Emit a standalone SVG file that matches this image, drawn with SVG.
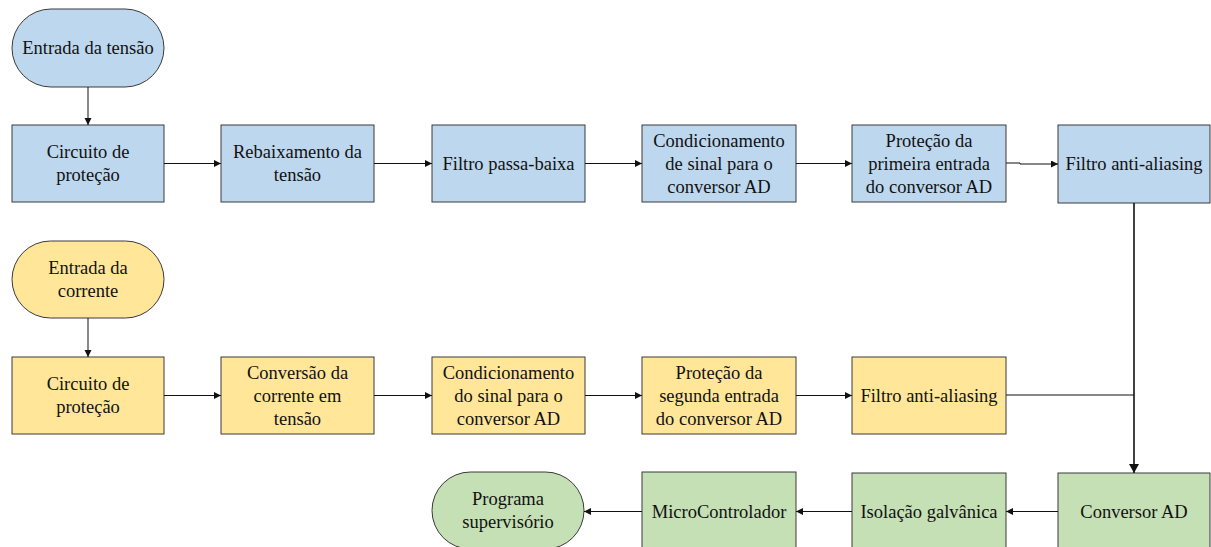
<svg xmlns="http://www.w3.org/2000/svg" width="1211" height="547" viewBox="0 0 1211 547" font-family="Liberation Serif, Tinos, Times New Roman, DejaVu Serif, serif">
  <style>
    .box { stroke: #3a3a3a; stroke-width: 1; }
    .blue { fill: #bdd7ee; }
    .orange { fill: #ffe699; }
    .green { fill: #c5e0b4; }
    .lbl { font-family: "Liberation Serif", Tinos, "Times New Roman", "DejaVu Serif", serif; font-size: 18.5px; fill: #111; text-anchor: middle; }
    .wire { fill: none; stroke: #111; stroke-width: 1; }
    .wire-main { fill: none; stroke: #111; stroke-width: 1.6; }
  </style>
  <defs>
    <marker id="arr" markerUnits="userSpaceOnUse" markerWidth="8" markerHeight="8" refX="7" refY="3.5" orient="auto">
      <path d="M0,0 L7,3.5 L0,7 z" fill="#111"/>
    </marker>
    <marker id="arrBig" markerUnits="userSpaceOnUse" markerWidth="12" markerHeight="12" refX="9" refY="5" orient="auto">
      <path d="M0,0 L9,5 L0,10 z" fill="#111"/>
    </marker>
  </defs>

  <!-- voltage path -->
  <g id="entrada-tensao">
    <rect class="box blue" x="12" y="9" width="152" height="78" rx="39" ry="39"/>
    <text class="lbl" x="88" y="54">Entrada da tensão</text>
  </g>
  <g id="v-protecao">
    <rect class="box blue" x="12" y="125" width="152" height="77"/>
    <text class="lbl" x="88" y="158">Circuito de</text>
    <text class="lbl" x="88" y="181">proteção</text>
  </g>
  <g id="v-rebaixamento">
    <rect class="box blue" x="221" y="125" width="153" height="77"/>
    <text class="lbl" x="297.5" y="158">Rebaixamento da</text>
    <text class="lbl" x="297.5" y="181">tensão</text>
  </g>
  <g id="v-passa-baixa">
    <rect class="box blue" x="432" y="125" width="153" height="77"/>
    <text class="lbl" x="508.5" y="169.5">Filtro passa-baixa</text>
  </g>
  <g id="v-condicionamento">
    <rect class="box blue" x="642" y="125" width="154" height="77"/>
    <text class="lbl" x="719" y="146.5">Condicionamento</text>
    <text class="lbl" x="719" y="169.5">de sinal para o</text>
    <text class="lbl" x="719" y="192.5">conversor AD</text>
  </g>
  <g id="v-protecao-ad">
    <rect class="box blue" x="852" y="125" width="154" height="77"/>
    <text class="lbl" x="929" y="146.5">Proteção da</text>
    <text class="lbl" x="929" y="169.5">primeira entrada</text>
    <text class="lbl" x="929" y="192.5">do conversor AD</text>
  </g>
  <g id="v-anti-aliasing">
    <rect class="box blue" x="1058" y="125" width="152" height="78"/>
    <text class="lbl" x="1134" y="170">Filtro anti-aliasing</text>
  </g>

  <!-- current path -->
  <g id="entrada-corrente">
    <rect class="box orange" x="12" y="241" width="152" height="77" rx="38.5" ry="38.5"/>
    <text class="lbl" x="88" y="274">Entrada da</text>
    <text class="lbl" x="88" y="297">corrente</text>
  </g>
  <g id="i-protecao">
    <rect class="box orange" x="12" y="357" width="152" height="77"/>
    <text class="lbl" x="88" y="390">Circuito de</text>
    <text class="lbl" x="88" y="413">proteção</text>
  </g>
  <g id="i-conversao">
    <rect class="box orange" x="221" y="357" width="153" height="77"/>
    <text class="lbl" x="297.5" y="378.5">Conversão da</text>
    <text class="lbl" x="297.5" y="401.5">corrente em</text>
    <text class="lbl" x="297.5" y="424.5">tensão</text>
  </g>
  <g id="i-condicionamento">
    <rect class="box orange" x="432" y="357" width="153" height="77"/>
    <text class="lbl" x="508.5" y="378.5">Condicionamento</text>
    <text class="lbl" x="508.5" y="401.5">do sinal para o</text>
    <text class="lbl" x="508.5" y="424.5">conversor AD</text>
  </g>
  <g id="i-protecao-ad">
    <rect class="box orange" x="642" y="357" width="154" height="77"/>
    <text class="lbl" x="719" y="378.5">Proteção da</text>
    <text class="lbl" x="719" y="401.5">segunda entrada</text>
    <text class="lbl" x="719" y="424.5">do conversor AD</text>
  </g>
  <g id="i-anti-aliasing">
    <rect class="box orange" x="852" y="357" width="154" height="77"/>
    <text class="lbl" x="929" y="401.5">Filtro anti-aliasing</text>
  </g>

  <!-- digital side -->
  <g id="conversor-ad">
    <rect class="box green" x="1058" y="473" width="152" height="77"/>
    <text class="lbl" x="1134" y="517.5">Conversor AD</text>
  </g>
  <g id="isolacao">
    <rect class="box green" x="852" y="473" width="154" height="77"/>
    <text class="lbl" x="929" y="517.5">Isolação galvânica</text>
  </g>
  <g id="microcontrolador">
    <rect class="box green" x="642" y="472" width="154" height="78"/>
    <text class="lbl" x="719" y="517.5">MicroControlador</text>
  </g>
  <g id="supervisorio">
    <rect class="box green" x="432" y="472" width="152" height="77" rx="38.5" ry="38.5"/>
    <text class="lbl" x="508" y="505">Programa</text>
    <text class="lbl" x="508" y="528">supervisório</text>
  </g>

  <g id="connectors">
    <path class="wire" d="M88,87 V125" marker-end="url(#arr)"/>
    <path class="wire" d="M164,163.5 H221" marker-end="url(#arr)"/>
    <path class="wire" d="M374,163.5 H432" marker-end="url(#arr)"/>
    <path class="wire" d="M585,163.5 H642" marker-end="url(#arr)"/>
    <path class="wire" d="M796,163.5 H852" marker-end="url(#arr)"/>
    <path class="wire" d="M1006,163 H1020 V164 H1058" marker-end="url(#arr)"/>

    <path class="wire" d="M88,318 V357" marker-end="url(#arr)"/>
    <path class="wire" d="M164,395.5 H221" marker-end="url(#arr)"/>
    <path class="wire" d="M374,395.5 H432" marker-end="url(#arr)"/>
    <path class="wire" d="M585,395.5 H642" marker-end="url(#arr)"/>
    <path class="wire" d="M796,395.5 H852" marker-end="url(#arr)"/>
    <path class="wire" d="M1006,395 H1134"/>

    <path class="wire-main" d="M1134,203 V473" marker-end="url(#arrBig)"/>

    <path class="wire" d="M1058,511.5 H1006" marker-end="url(#arr)"/>
    <path class="wire" d="M852,511.5 H796" marker-end="url(#arr)"/>
    <path class="wire" d="M642,511.5 H584" marker-end="url(#arr)"/>
  </g>
</svg>
